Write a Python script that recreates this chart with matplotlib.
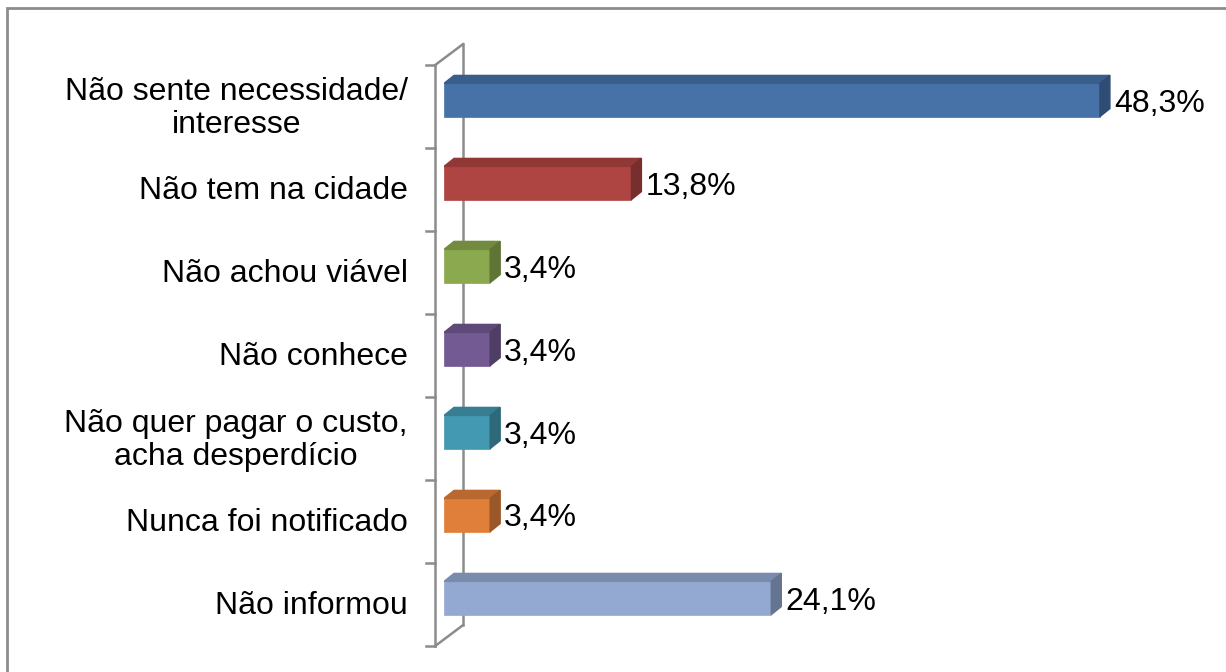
import matplotlib
matplotlib.use("Agg")
from matplotlib import pyplot as plt
from matplotlib.patches import Polygon, Rectangle

plt.rcParams['font.family'] = ['Liberation Sans', 'DejaVu Sans']

categorias = ["Não sente necessidade/\ninteresse", "Não tem na cidade", "Não achou viável",
              "Não conhece", "Não quer pagar o custo,\nacha desperdício",
              "Nunca foi notificado", "Não informou"]
valores = [48.3, 13.8, 3.4, 3.4, 3.4, 3.4, 24.1]
frente = ["#4672A8", "#AE4542", "#8BA94E", "#735A92", "#4399B2", "#E07F39", "#94A9D1"]
topo = ["#3A5E8C", "#8F3836", "#728B40", "#5E4A78", "#377E93", "#B9692F", "#7A8BAD"]
lado = ["#2F4D74", "#772F2D", "#5F7435", "#4E3E64", "#2E697A", "#9A5727", "#65748F"]

W, H = 1226, 672
fig = plt.figure(figsize=(W / 100, H / 100), dpi=100)

# pixel mapping: x=0 at 444px, 13.58 px per %, bar i front centre at 100 + 83*i px
x0, sx = 444, 13.58
y0, sy = 100, 83
ax = fig.add_axes([x0 / W, 0, (W - x0) / W, 1])
ax.set_xlim(0, (W - x0) / sx)
ax.set_ylim((H - y0) / sy, -y0 / sy)
ax.axis("off")

px = lambda p: p / sx
py = lambda p: p / sy

# wall
wall = "#8C8C8C"
fx, bx = px(-9), px(19)
top, bot = -0.42, len(valores) - 0.42
dy = py(21)
ax.plot([fx, fx], [top, bot], color=wall, lw=1.8, clip_on=False, zorder=1)
ax.plot([bx, bx], [top - dy, bot - dy], color=wall, lw=1.8, clip_on=False, zorder=1)
ax.plot([fx, bx], [top, top - dy], color=wall, lw=1.8, clip_on=False, zorder=1)
ax.plot([fx, bx], [bot, bot - dy], color=wall, lw=1.8, clip_on=False, zorder=1)
for k in range(len(valores) + 1):
    ax.plot([px(-18), fx], [top + k, top + k], color=wall, lw=1.8, clip_on=False, zorder=1)

# bars
h = 0.4
ddx, ddy = px(10), py(8)
for i, (v, c) in enumerate(zip(valores, frente)):
    ax.barh(i, v, height=h, color=c, edgecolor=c, lw=0.5, zorder=3)
    ax.add_patch(Polygon([(0, i - h / 2), (v, i - h / 2), (v + ddx, i - h / 2 - ddy),
                          (ddx, i - h / 2 - ddy)], closed=True, color=topo[i], zorder=3))
    ax.add_patch(Polygon([(v, i - h / 2), (v + ddx, i - h / 2 - ddy),
                          (v + ddx, i + h / 2 - ddy), (v, i + h / 2)],
                         closed=True, color=lado[i], zorder=3))
    ax.text(v + px(14), i + py(11.5), f"{v:.1f}%".replace(".", ","), fontsize=23,
            va="baseline", ha="left", zorder=4)
    ax.text(px(408 - x0), i + 0.1, categorias[i], fontsize=23, ha="right",
            va="center", multialignment="center", linespacing=1.13, clip_on=False)

# outer border
fig.patches.append(Rectangle((7 / W, -0.1), 1.2, 1.1 - 8 / H, transform=fig.transFigure,
                             fill=False, edgecolor="#8C8C8C", lw=2))

fig.savefig("out.png", dpi=100)
